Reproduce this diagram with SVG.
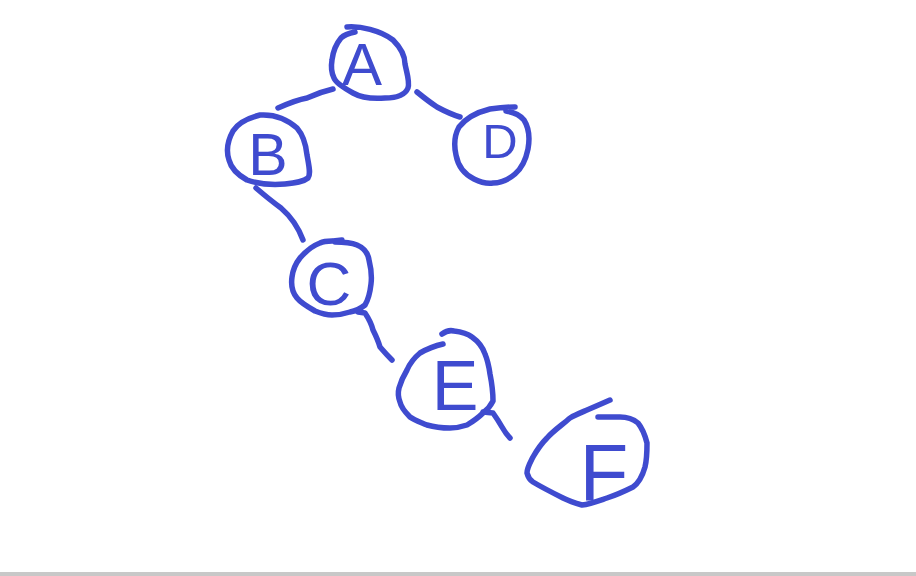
<svg xmlns="http://www.w3.org/2000/svg" width="916" height="576" viewBox="0 0 916 576">
<style>
.s{fill:none;stroke:#3f4bcf;stroke-width:5.5;stroke-linecap:round;stroke-linejoin:round}
.t{fill:#3f4bcf;font-family:"Liberation Sans",Arial,sans-serif;text-anchor:middle;font-size:60px}
</style>
<rect x="0" y="0" width="916" height="576" fill="#ffffff"/>
<rect x="0" y="572" width="916" height="4" fill="#c8c8c8"/>
<g id="connectors">
<path class="s" d="M278,108 Q296,100 307,98 Q320,92 333,89"/>
<path class="s" d="M417,92 Q428,101 437,107 Q450,114 460,117"/>
<path class="s" d="M256,188 Q270,200 281,208 Q296,221 303,240"/>
<path class="s" d="M358,312 L365,313 Q371,322 373,330 Q378,340 380,347 Q386,354 392,360"/>
<path class="s" d="M483,412 L493,413 Q498,420 502,427 Q506,434 510,438"/>
</g>
<g id="node-A">
<path class="s" d="M347,27 C360,26 380,30 393,40 C401,48 405,56 405,64 C407,74 410,82 408,88 C405,95 398,98 385,98 C372,99 360,97 353,93 C344,88 336,83 334,78 C331,72 331,66 332,60 C333,52 336,44 341,38 C345,34 350,33 355,32"/>
<text class="t" x="362" y="85">A</text>
</g>
<g id="node-B">
<path class="s" d="M260,115 C275,114 288,120 297,128 C304,136 306,145 307,155 C309,166 311,174 308,178 C303,182 296,183 285,184 C272,185 258,184 247,180 C238,175 231,168 229,160 C226,151 228,140 233,131 C238,123 248,118 260,115"/>
<text class="t" x="268" y="175" style="font-size:59px">B</text>
</g>
<g id="node-D">
<path class="s" d="M515,107 C505,107 497,108 490,109 C478,112 466,118 459,127 C454,136 454,146 456,155 C458,166 464,174 474,179 C480,182 486,184 493,183 C501,183 508,180 515,174 C522,168 526,159 528,149 C530,138 529,128 524,120 C519,114 513,112 506,111"/>
<text class="t" x="500" y="158" style="font-size:49px">D</text>
</g>
<g id="node-C">
<path class="s" d="M333,241 L342,240 M335,242 C345,242 352,243 357,245 C364,248 368,253 369,260 C371,268 372,276 371,284 C370,293 368,300 365,305 C360,309 356,311 350,312 C344,314 338,315 332,315 C326,315 320,313 315,311 C308,307 301,303 297,298 C292,292 291,284 292,277 C293,269 296,263 300,258 C306,251 312,246 320,243 C324,241 328,241 332,241"/>
<text class="t" x="329" y="305" style="font-size:62px">C</text>
</g>
<g id="node-E">
<path class="s" d="M442,334 C446,331 450,330 454,331 C462,332 468,334 472,337 C479,342 483,348 485,354 C488,361 489,367 490,374 C492,384 493,393 493,401 C490,407 487,410 483,413 C478,418 472,422 467,425 C461,427 455,428 450,428 C442,428 434,427 427,425 C420,422 414,420 410,417 C405,412 401,407 400,402 C398,397 398,392 399,388 C401,381 404,375 407,370 C410,363 414,358 420,353 C427,349 434,346 443,344"/>
<text class="t" x="455" y="410" style="font-size:70px">E</text>
</g>
<g id="node-F">
<path class="s" d="M610,400 C601,404 594,407 587,410 C580,413 575,415 570,418 C562,425 553,431 547,438 C541,444 537,450 533,457 C530,463 527,468 527,473 C528,477 530,480 533,482 C543,488 553,493 563,498 C569,501 575,503 582,505 C590,504 598,501 607,498 C616,495 625,491 633,487 C640,482 643,474 645,467 C647,459 647,451 647,443 C645,435 642,428 638,423 C632,418 626,417 620,417 C613,417 605,417 598,417"/>
<text class="t" x="604" y="500" style="font-size:80px">F</text>
</g>
</svg>
